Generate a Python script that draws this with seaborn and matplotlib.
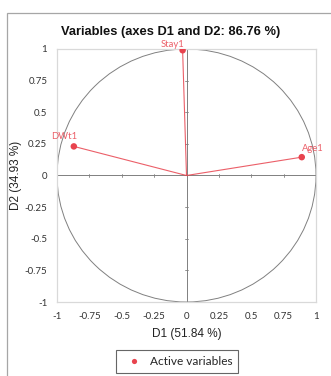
import numpy as np
import pandas as pd
import matplotlib
matplotlib.use("Agg")
import matplotlib.pyplot as plt
import seaborn as sns
from matplotlib.patches import Circle, Rectangle

# Correlation circle coordinates of the active variables
variables = ["Stay1", "DWt1", "Age1"]
d1 = [-0.03, -0.87, 0.89]
d2 = [0.99, 0.23, 0.145]
ticks = [-1, -0.75, -0.5, -0.25, 0, 0.25, 0.5, 0.75, 1]
tick_labels = ["-1", "-0.75", "-0.5", "-0.25", "0", "0.25", "0.5", "0.75", "1"]

df = pd.DataFrame({"variable": variables, "D1": d1, "D2": d2,
                   "kind": ["Active variables"] * len(variables)})

sns.set_theme(style="white")
plt.rcParams["font.family"] = ["Liberation Sans", "DejaVu Sans"]

red = "#e8434e"
grey = "#808080"
light = ["Lato", "DejaVu Sans"]

fig = plt.figure(figsize=(3.31, 3.76), dpi=100)
ax = fig.add_axes([0.1722, 0.1968, 0.7825, 0.6729])

# outer chart border
fig.patches.append(Rectangle((7 / 331, -0.1), 1.2, 1 - 13 / 376 + 0.1,
                             transform=fig.transFigure, fill=False,
                             edgecolor="#a6a6a6", linewidth=0.9))

# unit circle and the two principal axes
ax.add_patch(Circle((0, 0), 1, fill=False, edgecolor=grey, linewidth=0.7))
ax.axhline(0, color=grey, linewidth=0.7)
ax.axvline(0, color=grey, linewidth=0.7)
for t in ticks:
    if t in (-1, 0, 1):
        continue
    ax.plot([-0.015, 0.015], [t, t], color=grey, linewidth=0.6)
    ax.plot([t, t], [-0.015, 0.015], color=grey, linewidth=0.6)

# vectors from origin
for x, y in zip(d1, d2):
    ax.plot([0, x], [0, y], color=red, linewidth=0.8, alpha=0.85)

sns.scatterplot(data=df, x="D1", y="D2", hue="kind", palette=[red],
                s=22, edgecolor="none", ax=ax, zorder=5)

label_style = {
    "Stay1": dict(dx=0.01, dy=0.012, ha="right"),
    "DWt1": dict(dx=0.03, dy=0.04, ha="right"),
    "Age1": dict(dx=0.0, dy=0.03, ha="left"),
}
for name, x, y in zip(variables, d1, d2):
    st = label_style[name]
    ax.text(x + st["dx"], y + st["dy"], name, color=red, fontsize=6.8,
            ha=st["ha"], va="bottom", family=light, alpha=0.85, clip_on=False)

ax.set_xlim(-1, 1)
ax.set_ylim(-1, 1)
ax.set_xticks(ticks)
ax.set_yticks(ticks)
ax.set_xticklabels(tick_labels, family=light, fontsize=7, color="#333333")
ax.set_yticklabels(tick_labels, family=light, fontsize=7, color="#333333")
ax.tick_params(length=0, pad=7)
for s in ax.spines.values():
    s.set_color("#d9d9d9")
    s.set_linewidth(0.9)

ax.set_xlabel("D1 (51.84 %)", fontsize=8.5, labelpad=5, color="#222222")
ax.set_ylabel("D2 (34.93 %)", fontsize=8.5, labelpad=2, color="#222222")
ax.set_title("Variables (axes D1 and D2: 86.76 %)", fontsize=9.3, fontweight="bold",
             pad=10, color="#111111", x=0.44)

leg = ax.legend(loc="center", bbox_to_anchor=(0.465, -0.237), frameon=True, fancybox=False,
                handletextpad=0.3, borderpad=0.5, markerscale=0.8,
                prop={"family": light, "size": 8.6})
leg.get_frame().set_edgecolor("#404040")
leg.get_frame().set_linewidth(0.8)

fig.savefig("out.png", dpi=100)
